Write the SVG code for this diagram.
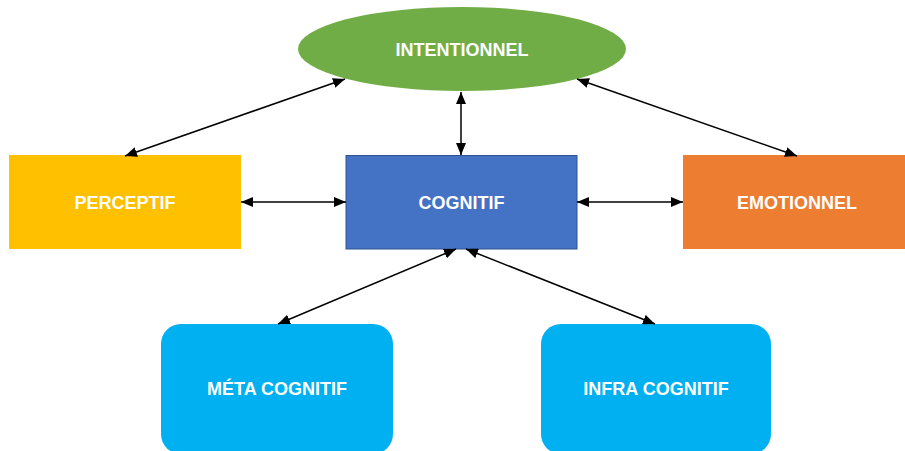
<svg xmlns="http://www.w3.org/2000/svg" width="905" height="451" viewBox="0 0 905 451">
<style>
.lbl{font-family:"Liberation Sans",Arial,sans-serif;font-weight:bold;font-size:18px;fill:#fff;text-anchor:middle}
.edge{stroke:#000;stroke-width:1.5;fill:none;marker-start:url(#ah);marker-end:url(#ah)}
</style>
<defs>
<marker id="ah" viewBox="0 0 12 10" refX="12" refY="5" markerWidth="12" markerHeight="10" markerUnits="userSpaceOnUse" orient="auto-start-reverse">
<path d="M0,0 L12,5 L0,10 z" fill="#000"/>
</marker>
</defs>
<rect width="905" height="451" fill="#fff"/>
<g id="intentionnel">
<ellipse cx="462" cy="49" rx="164" ry="42" fill="#70AD47"/>
<text class="lbl" x="462" y="56">INTENTIONNEL</text>
</g>
<g id="perceptif">
<rect x="9" y="155" width="232" height="94" fill="#FFC000"/>
<text class="lbl" x="125" y="208.5">PERCEPTIF</text>
</g>
<g id="cognitif">
<rect x="346" y="155.5" width="231" height="93.5" fill="#4472C4" stroke="#2F528F" stroke-width="1"/>
<text class="lbl" x="461.5" y="208.5">COGNITIF</text>
</g>
<g id="emotionnel">
<rect x="683" y="155" width="224" height="94" fill="#ED7D31"/>
<text class="lbl" x="797" y="208.5">EMOTIONNEL</text>
</g>
<g id="meta">
<rect x="161" y="324" width="232" height="130" rx="20" fill="#00B0F0"/>
<text class="lbl" x="277" y="394.5">MÉTA COGNITIF</text>
</g>
<g id="infra">
<rect x="541" y="324" width="230" height="130" rx="20" fill="#00B0F0"/>
<text class="lbl" x="656" y="394.5">INFRA COGNITIF</text>
</g>
<g id="connectors">
<line class="edge" x1="125" y1="156" x2="345" y2="79"/>
<line class="edge" x1="797" y1="156" x2="577" y2="79"/>
<line class="edge" x1="461" y1="92" x2="461" y2="155"/>
<line class="edge" x1="241" y1="202" x2="346" y2="202"/>
<line class="edge" x1="577" y1="202" x2="683" y2="202"/>
<line class="edge" x1="278" y1="324" x2="456" y2="249"/>
<line class="edge" x1="655" y1="324" x2="466" y2="249"/>
</g>
</svg>
